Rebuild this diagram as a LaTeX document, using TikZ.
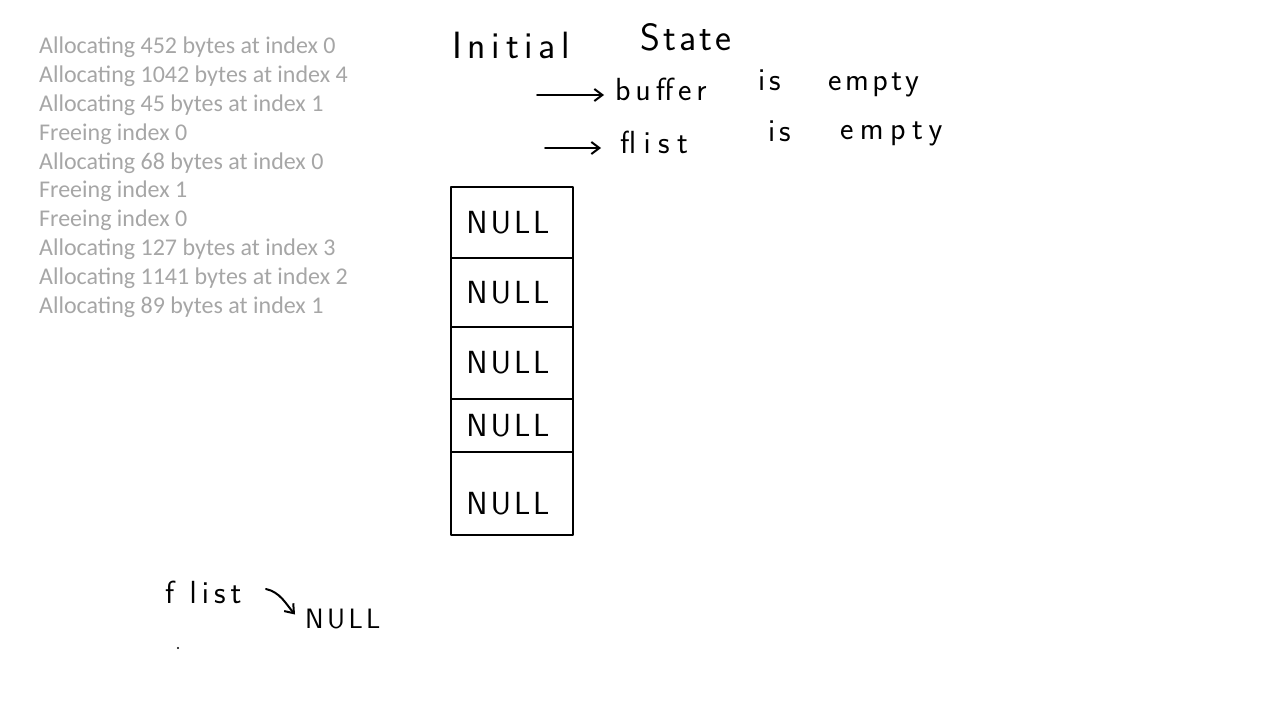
\documentclass[tikz,border=0pt]{standalone}
\usepackage{fontspec}
\setmainfont{Carlito}
\setsansfont{Latin Modern Sans}
\usetikzlibrary{arrows.meta,positioning}
\definecolor{loggray}{RGB}{166,166,166}
\newcommand{\hwfont}[2]{\sffamily\fontsize{#1}{#1}\selectfont\addfontfeature{LetterSpace=#2}}
\tikzset{
  ink/.style={line width=2.4pt, draw=black, line cap=round, line join=round},
  hand/.style={font=\hwfont{32}{12}, inner sep=0pt, anchor=base west},
  loglabel/.style={font=\fontsize{24}{28}\selectfont, text=loggray, anchor=base west, inner sep=0pt},
  nulltext/.style={font=\hwfont{32}{9}, inner sep=0pt},
  cell/.style={ink, minimum width=122pt, inner sep=0pt, outer sep=0pt},
  handarrow/.style={ink, line width=2pt, -{Straight Barb[length=8pt,width=12pt]}},
}
\begin{document}
\begin{tikzpicture}[x=1pt,y=-1pt]
\useasboundingbox (0,0) rectangle (1280,720);
% log
\node[loglabel] (l1) at (39,53) {Allocating 452 bytes at index 0};
\node[loglabel] (l2) at (39,82) {Allocating 1042 bytes at index 4};
\node[loglabel] (l3) at (39,111) {Allocating 45 bytes at index 1};
\node[loglabel] (l4) at (39,140) {Freeing index 0};
\node[loglabel] (l5) at (39,169) {Allocating 68 bytes at index 0};
\node[loglabel] (l6) at (39,197) {Freeing index 1};
\node[loglabel] (l7) at (39,226) {Freeing index 0};
\node[loglabel] (l8) at (39,255) {Allocating 127 bytes at index 3};
\node[loglabel] (l9) at (39,284) {Allocating 1141 bytes at index 2};
\node[loglabel] (l10) at (39,313) {Allocating 89 bytes at index 1};
% heading
\node[hand, font=\hwfont{38}{15}] (init) at (452,58) {Initial};
\node[hand, font=\hwfont{38}{8}] (state) at (640,50) {State};
% buffer is empty
\coordinate (a1) at (537,95);
\node[hand, font=\hwfont{32}{15}] (buf) at (615,100) {buffer};
\node[hand] (is1) at (758,90) {is};
\node[hand, font=\hwfont{32}{11}] (emp1) at (828,90) {empty};
\draw[handarrow] (a1) -- ([xshift=-11pt]buf.west |- a1);
% flist is empty
\coordinate (a2) at (545,148);
\node[hand, font=\hwfont{32}{23}] (fl) at (620,153) {flist};
\node[hand] (is2) at (768,141) {is};
\node[hand, font=\hwfont{32}{20}] (emp2) at (840,139) {empty};
\draw[handarrow] (a2) -- ([xshift=-19pt]fl.west |- a2);
% buffer array
\node[cell, minimum height=71pt] (c0) at (512,222.5) {};
\node[cell, minimum height=69pt, below=0pt of c0] (c1) {};
\node[cell, minimum height=72pt, below=0pt of c1] (c2) {};
\node[cell, minimum height=53pt, below=0pt of c2] (c3) {};
\node[cell, minimum height=83pt, below=0pt of c3] (c4) {};
\node[nulltext] (n0) at ([xshift=-4pt]c0.center) {NULL};
\node[nulltext] (n1) at ([xshift=-4pt]c1.center) {NULL};
\node[nulltext] (n2) at ([xshift=-4pt]c2.center) {NULL};
\node[nulltext] (n3) at ([xshift=-4pt]c3.center) {NULL};
\node[nulltext] (n4) at ([xshift=-4pt,yshift=-10pt]c4.center) {NULL};
% flist at bottom
\node[hand, font=\hwfont{32}{16}] (fl2) at (165,603) {f list};
\node[nulltext, font=\hwfont{28}{12}, anchor=base west] (fnull) at (305,628) {NULL};
\coordinate (fa) at (266,589);
\draw[handarrow] (fa) .. controls (280,592) and (286,604) .. ([xshift=-10pt,yshift=4pt]fnull.west);
\fill (178,648) circle (1.2pt);
\end{tikzpicture}
\end{document}
